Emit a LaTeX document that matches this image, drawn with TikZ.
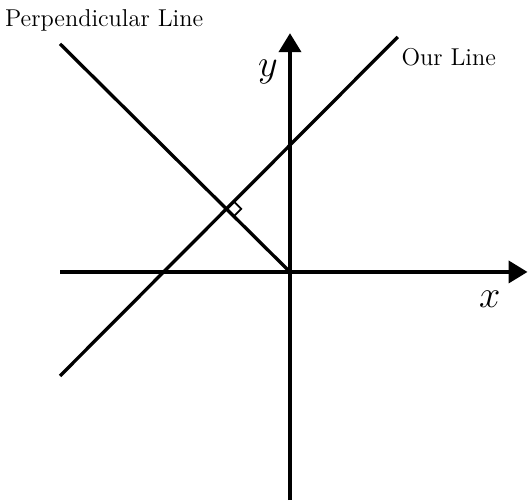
\documentclass[tikz,border=0pt]{standalone}
\usetikzlibrary{arrows.meta, calc}

\begin{document}
\begin{tikzpicture}[
    axis-line/.style={-{Triangle[length=3mm, width=3.5mm]}, line width=1.6pt},
    plain-line/.style={line width=1.5pt},
    right-mark/.style={line width=0.8pt},
    every node/.style={inner sep=2pt},
    line-label/.style={font=\fontsize{11}{13}\selectfont},
]
    \useasboundingbox (-4.603,-3.651) rectangle (3.778,4.317);

    % ---- COORDINATES ----
    \coordinate (O) at (0,0);
    \coordinate (x-left) at (-3.65,0);
    \coordinate (x-right) at (3.77,0);
    \coordinate (y-bottom) at (0,-3.62);
    \coordinate (y-top) at (0,3.79);
    \coordinate (our-start) at (-3.65,-1.65);
    \coordinate (our-end) at (1.71,3.73);
    \coordinate (perp-start) at (-3.65,3.62);
    \coordinate (foot) at (-1,1);

    % ---- AXES ----
    \draw[axis-line] (x-left) -- (x-right);
    \draw[axis-line] (y-bottom) -- (y-top);
    \node (x-label) at (3.17,-0.44) {\LARGE $x$};
    \node (y-label) at (-0.35,3.17) {\LARGE $y$};

    % ---- LINES ----
    \draw[plain-line] (our-start) -- (our-end);
    \draw[plain-line] (perp-start) -- (O);

    % right angle at the foot
    \draw[right-mark] ($(foot)+(45:0.16)$) -- ($(foot)+(45:0.16)+(-45:0.16)$)
        -- ($(foot)+(-45:0.16)$);

    % ---- LABELS ----
    \node[line-label] (perp-label) at (-2.95,4.0) {Perpendicular Line};
    \node[line-label] (our-label) at (2.52,3.41) {Our Line};
\end{tikzpicture}
\end{document}
